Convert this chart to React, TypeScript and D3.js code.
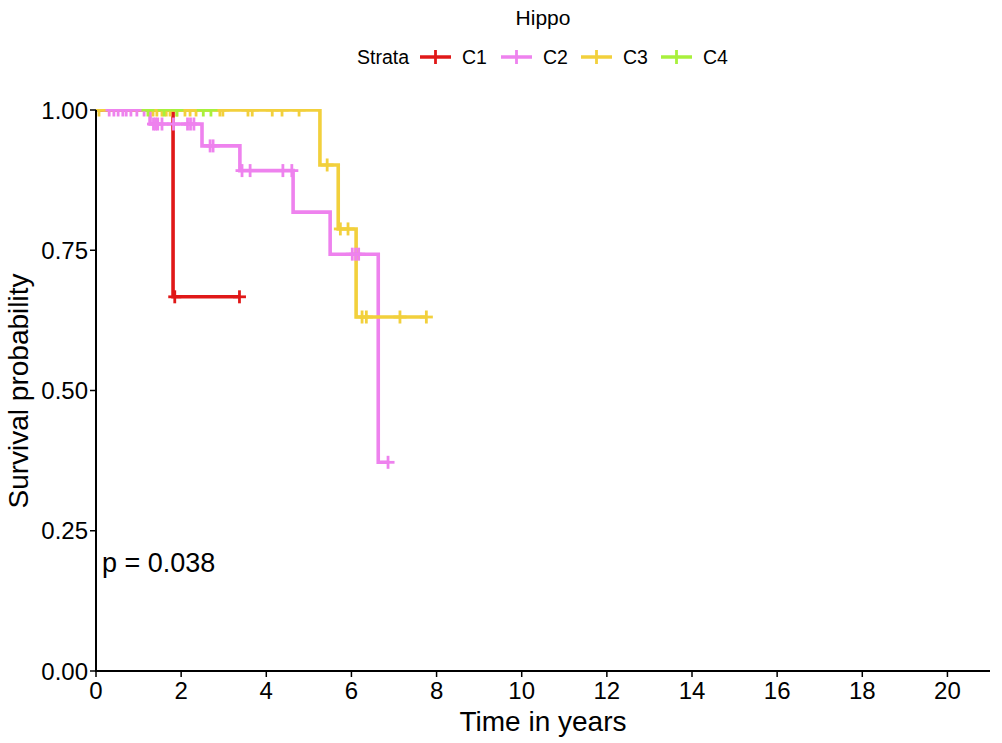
import React from "react";
import * as d3 from "d3";

const strata = ["C1", "C2", "C3", "C4"];
const colors = ["#E01818", "#EE82EE", "#F2D03C", "#A8F03C"];

// step times and survival after each step
const c1Times = [0, 1.81];
const c1Surv = [1, 0.667];
const c1End = 3.37;
const c1Censor = [1.85, 3.37];

const c2Times = [0, 1.27, 2.49, 3.38, 4.63, 5.5, 6.63];
const c2Surv = [1, 0.975, 0.936, 0.892, 0.818, 0.743, 0.372];
const c2End = 6.86;
const c2Censor = [0.31, 0.42, 0.52, 0.63, 0.71, 0.82, 0.96, 1.13, 1.35, 1.4, 1.45, 1.55, 1.82, 2.15, 2.22, 2.3, 2.68, 2.75, 3.43, 3.62, 4.39, 4.6, 6.02, 6.1, 6.17, 6.86];

const c3Times = [0, 5.26, 5.69, 6.11];
const c3Surv = [1, 0.902, 0.788, 0.631];
const c3End = 7.76;
const c3Censor = [0.07, 1.34, 1.43, 1.55, 1.65, 1.74, 1.9, 2.09, 2.21, 2.35, 2.91, 2.98, 3.57, 3.67, 4.14, 4.37, 4.77, 5.43, 5.74, 5.92, 6.25, 6.35, 7.14, 7.76];

const c4Times = [0];
const c4Surv = [1];
const c4End = 2.7;
const c4Censor = [1.22, 1.6, 1.9, 2.52, 2.7];

const xTicks = [0, 2, 4, 6, 8, 10, 12, 14, 16, 18, 20];
const yTicks = [0, 0.25, 0.5, 0.75, 1];
const pValueText = "p = 0.038";

const series = [
  { times: c1Times, surv: c1Surv, end: c1End, censor: c1Censor },
  { times: c2Times, surv: c2Surv, end: c2End, censor: c2Censor },
  { times: c3Times, surv: c3Surv, end: c3End, censor: c3Censor },
  { times: c4Times, surv: c4Surv, end: c4End, censor: c4Censor },
];

const W = 1002;
const H = 743;
const FONT = "'Liberation Sans', Arial, Helvetica, sans-serif";

function survAt(times: number[], surv: number[], t: number) {
  let s = surv[0];
  for (let i = 0; i < times.length; i++) if (times[i] <= t) s = surv[i];
  return s;
}

export default function App() {
  const x = d3.scaleLinear().domain([0, 21]).range([96, 990]);
  const y = d3.scaleLinear().domain([0, 1]).range([671, 110]);

  const makePath = (s: typeof series[0]) => {
    const pts: [number, number][] = [];
    s.times.forEach((t, i) => pts.push([t, s.surv[i]]));
    pts.push([s.end, s.surv[s.surv.length - 1]]);
    const line = d3
      .line<[number, number]>()
      .x((d) => x(d[0]))
      .y((d) => y(d[1]))
      .curve(d3.curveStepAfter);
    return line(pts) || "";
  };

  const drawOrder = [3, 1, 0, 2];
  const legendX = [420, 501, 581, 661];

  return (
    <div style={{ position: "absolute", left: 0, top: 0, width: W, height: H, background: "#fff" }}>
      <svg width={W} height={H} style={{ display: "block" }} fontFamily={FONT}>
        <defs>
          <clipPath id="panel">
            <rect x={96} y={109} width={894} height={562} />
          </clipPath>
        </defs>
        <rect width={W} height={H} fill="#fff" />
        <text x={543} y={25} textAnchor="middle" fontSize={21}>Hippo</text>
        <text x={357} y={64} fontSize={19.5}>Strata</text>
        {strata.map((s, i) => (
          <g key={s}>
            <line x1={legendX[i]} x2={legendX[i] + 31} y1={57} y2={57} stroke={colors[i]} strokeWidth={3.5} />
            <line x1={legendX[i] + 15.5} x2={legendX[i] + 15.5} y1={50} y2={64} stroke={colors[i]} strokeWidth={2.8} />
            <text x={legendX[i] + 42} y={64} fontSize={19.5}>{s}</text>
          </g>
        ))}

        <g clipPath="url(#panel)">
          {drawOrder.map((i) => (
            <path key={"l" + i} d={makePath(series[i])} fill="none" stroke={colors[i]} strokeWidth={3.6} />
          ))}
          {series.map((s, i) => (
            <g key={"c" + i}>
              {s.censor.map((t, j) => {
                const yy = y(survAt(s.times, s.surv, t));
                return (
                  <g key={j}>
                    <line x1={x(t)} x2={x(t)} y1={yy - 6.5} y2={yy + 6.5} stroke={colors[i]} strokeWidth={2.8} />
                    <line x1={x(t) - 6.5} x2={x(t) + 6.5} y1={yy} y2={yy} stroke={colors[i]} strokeWidth={2.8} />
                  </g>
                );
              })}
            </g>
          ))}
        </g>

        {/* axes */}
        <line x1={96} x2={96} y1={110} y2={672} stroke="#000" strokeWidth={2} />
        <line x1={95} x2={990} y1={671} y2={671} stroke="#000" strokeWidth={2} />
        {yTicks.map((t) => (
          <g key={"y" + t}>
            <line x1={90} x2={96} y1={y(t)} y2={y(t)} stroke="#000" strokeWidth={1.5} />
            <text x={88} y={y(t) + 8.5} textAnchor="end" fontSize={24}>{t.toFixed(2)}</text>
          </g>
        ))}
        {xTicks.map((t) => (
          <g key={"x" + t}>
            <line x1={x(t)} x2={x(t)} y1={671} y2={677} stroke="#000" strokeWidth={1.5} />
            <text x={x(t)} y={699} textAnchor="middle" fontSize={24}>{t}</text>
          </g>
        ))}
        <text x={543} y={731} textAnchor="middle" fontSize={28}>Time in years</text>
        <text transform="translate(28,391) rotate(-90)" textAnchor="middle" fontSize={28}>Survival probability</text>
        <text x={102} y={572} fontSize={27}>{pValueText}</text>
      </svg>
    </div>
  );
}
